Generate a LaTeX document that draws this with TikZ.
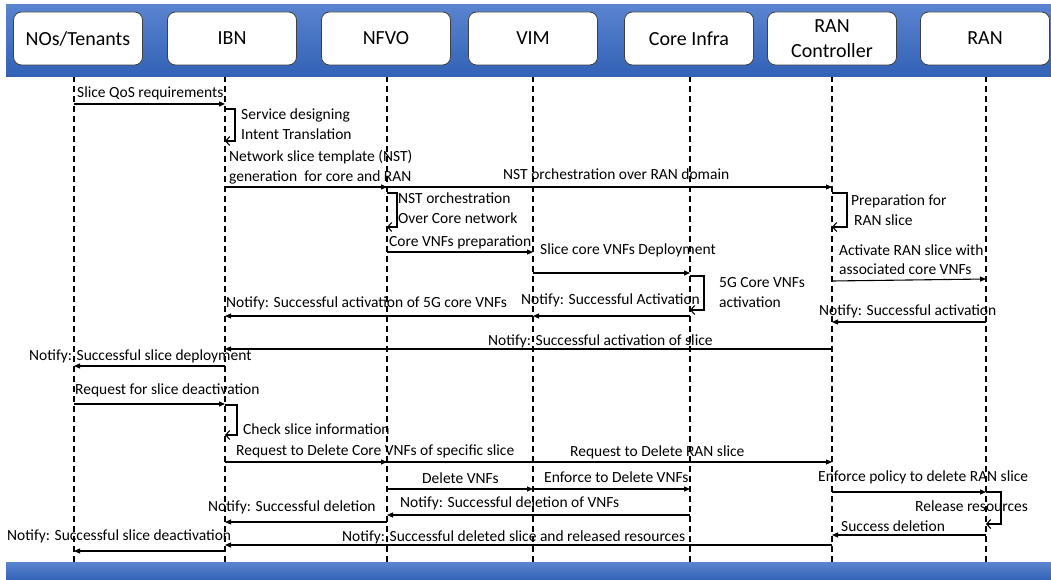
\documentclass[tikz,border=0pt]{standalone}
\usepackage{fontspec}
\setmainfont{Carlito}
\usetikzlibrary{arrows.meta,backgrounds}

\definecolor{bandtop}{HTML}{5A84D0}
\definecolor{bandbottom}{HTML}{3262B6}
\newcommand{\msgfont}{\fontsize{15.5}{19}\selectfont}

\begin{document}
\begin{tikzpicture}[
    x=1pt, y=-1pt,
    band/.style={
      top color=bandtop, bottom color=bandbottom,
      minimum width=1045pt, anchor=north west, inner sep=0pt
    },
    actor/.style={
      draw=black!75, fill=white, rounded corners=8pt, line width=0.8pt,
      minimum width=129pt, minimum height=53pt, align=center,
      font=\fontsize{20}{25}\selectfont
    },
    lifeline/.style={
      line width=1.2pt, dash pattern=on 6pt off 4pt
    },
    arrowtip/.style={
      -{Triangle[length=6pt,width=5pt]}
    },
    message/.style={line width=1.1pt, arrowtip},
    selfloop/.style={
      line width=1.1pt, -{Straight Barb[length=4pt,width=9pt]}
    },
    msgtext/.style={font=\msgfont, anchor=west, inner sep=0pt}
  ]
    \useasboundingbox (0,0) rectangle (1051,580);

    \node[band, minimum height=72pt] (TopBand) at (6,4) {};
    \node[band, minimum height=18pt] (BottomBand) at (6,562) {};

    \node[actor] (NOs) at (78,38.5) {NOs/Tenants};
    \node[actor] (IBN) at (232,38.5) {IBN};
    \node[actor] (NFVO) at (386,38.5) {NFVO};
    \node[actor] (VIM) at (533,38.5) {VIM};
    \node[actor] (CoreInfra) at (689,38.5) {Core Infra};
    \node[actor] (RANCtrl) at (832,38.5) {RAN\\Controller};
    \node[actor] (RAN) at (985,38.5) {RAN};

    \coordinate (NOsLine) at (74,0);
    \coordinate (IBNLine) at (225,0);
    \coordinate (NFVOLine) at (387,0);
    \coordinate (VIMLine) at (533,0);
    \coordinate (CoreLine) at (690,0);
    \coordinate (RANCtrlLine) at (832,0);
    \coordinate (RANLine) at (986,0);

    \begin{scope}[on background layer]
      \draw[lifeline] (NOsLine |- TopBand.south) -- (NOsLine |- BottomBand.north);
      \draw[lifeline] (IBNLine |- TopBand.south) -- (IBNLine |- BottomBand.north);
      \draw[lifeline] (NFVOLine |- TopBand.south) -- (NFVOLine |- BottomBand.north);
      \draw[lifeline] (VIMLine |- TopBand.south) -- (VIMLine |- BottomBand.north);
      \draw[lifeline] (CoreLine |- TopBand.south) -- (CoreLine |- BottomBand.north);
      \draw[lifeline] (RANCtrlLine |- TopBand.south) -- (RANCtrlLine |- BottomBand.north);
      \draw[lifeline] (RANLine |- TopBand.south) -- (RANLine |- BottomBand.north);
    \end{scope}

    \draw[message] (NOsLine |- 0,104) -- (IBNLine |- 0,104);
    \node[msgtext] (QoSText) at (77,93) {Slice QoS requirements};

    \draw[selfloop] (IBNLine |- 0,109) -- ++(10,0) |- (IBNLine |- 0,141);
    \node[msgtext] (DesignText) at (241,115) {Service designing};
    \node[msgtext] (IntentText) at (241,134) {Intent Translation};

    \draw[message] (IBNLine |- 0,187) -- (NFVOLine |- 0,187);
    \draw[message] (IBNLine |- 0,187) -- (RANCtrlLine |- 0,187);
    \node[msgtext] (NSTText) at (229,157) {Network slice template (NST)};
    \node[msgtext] (GenText) at (229,177) {generation~ for core and RAN};
    \node[msgtext] (RANDomText) at (503,174) {NST orchestration over RAN domain};

    \draw[selfloop] (NFVOLine |- 0,193) -- ++(10,0) |- (NFVOLine |- 0,227);
    \node[msgtext] (OrchText) at (398,198) {NST orchestration};
    \node[msgtext] (OverCoreText) at (398,218) {Over Core network};

    \draw[message] (NFVOLine |- 0,252) -- (VIMLine |- 0,252);
    \node[msgtext] (PrepText) at (389,242) {Core VNFs preparation};

    \draw[message] (VIMLine |- 0,273) -- (CoreLine |- 0,273);
    \node[msgtext] (DeployText) at (540,250) {Slice core VNFs Deployment};

    \draw[selfloop] (CoreLine |- 0,276) -- ++(14,0) |- (CoreLine |- 0,310);
    \node[msgtext] (FiveGText) at (719,283) {5G Core VNFs};
    \node[msgtext] (ActText) at (719,302) {activation};

    \draw[message] (CoreLine |- 0,316) -- (VIMLine |- 0,316);
    \node[msgtext] (CoreActText) at (521,300) {Notify: Successful Activation};

    \draw[message] (VIMLine |- 0,316) -- (IBNLine |- 0,316);
    \node[msgtext] (VNFActText) at (226,303) {Notify: Successful activation of 5G core VNFs};

    \draw[selfloop] (RANCtrlLine |- 0,193) -- ++(15,0) |- (RANCtrlLine |- 0,227);
    \node[msgtext] (PrepRANText) at (851,201) {Preparation for};
    \node[msgtext] (RANSliceText) at (854,220) {RAN slice};

    \draw[message] (RANCtrlLine |- 0,281) -- (RANLine |- 0,279);
    \node[msgtext] (ActivateText) at (839,250) {Activate RAN slice with};
    \node[msgtext] (AssocText) at (839,269) {associated core VNFs};

    \draw[message] (RANLine |- 0,322) -- (RANCtrlLine |- 0,322);
    \node[msgtext] (RANActText) at (819,311) {Notify: Successful activation};

    \draw[message] (RANCtrlLine |- 0,349) -- (IBNLine |- 0,349);
    \node[msgtext] (SliceActText) at (488,341) {Notify: Successful activation of slice};

    \draw[message] (IBNLine |- 0,366) -- (NOsLine |- 0,366);
    \node[msgtext] (DeplText) at (29,356) {Notify: Successful slice deployment};

    \draw[message] (NOsLine |- 0,404) -- (IBNLine |- 0,404);
    \node[msgtext] (DeactReqText) at (75,390) {Request for slice deactivation};

    \draw[selfloop] (IBNLine |- 0,405) -- ++(12,0) |- (IBNLine |- 0,435);
    \node[msgtext] (CheckText) at (243,429) {Check slice information};

    \draw[message] (IBNLine |- 0,462) -- (NFVOLine |- 0,462);
    \draw[message] (IBNLine |- 0,462) -- (RANCtrlLine |- 0,462);
    \node[msgtext] (DelCoreText) at (236,451) {Request to Delete Core VNFs of specific slice};
    \node[msgtext] (DelRANText) at (570,452) {Request to Delete RAN slice};

    \draw[message] (NFVOLine |- 0,489) -- (VIMLine |- 0,489);
    \node[msgtext] (DelVNFText) at (422,478) {Delete VNFs};

    \draw[message] (VIMLine |- 0,489) -- (CoreLine |- 0,489);
    \node[msgtext] (EnforceText) at (544,477) {Enforce to Delete VNFs};

    \draw[message] (CoreLine |- 0,515) -- (NFVOLine |- 0,515);
    \node[msgtext] (DelVNFOkText) at (400,503) {Notify: Successful deletion of VNFs};

    \draw[message] (NFVOLine |- 0,522) -- (IBNLine |- 0,522);
    \node[msgtext] (DelOkText) at (208,507) {Notify: Successful deletion};

    \draw[message] (RANCtrlLine |- 0,492) -- (RANLine |- 0,492);
    \node[msgtext] (PolicyText) at (818,477) {Enforce policy to delete RAN slice};

    \draw[selfloop] (RANLine |- 0,492) -- ++(15,0) |- (RANLine |- 0,524);
    \node[msgtext, anchor=east] (ReleaseText) at (1028,506) {Release resources};

    \draw[message] (RANLine |- 0,535) -- (RANCtrlLine |- 0,535);
    \node[msgtext] (SuccessText) at (841,526) {Success deletion};

    \draw[message] (RANCtrlLine |- 0,545) -- (IBNLine |- 0,545);
    \node[msgtext] (ReleasedText) at (342,537) {Notify: Successful deleted slice and released resources};

    \draw[message] (IBNLine |- 0,551) -- (NOsLine |- 0,551);
    \node[msgtext] (DeactText) at (7,536) {Notify: Successful slice deactivation};
  \end{tikzpicture}
\end{document}
